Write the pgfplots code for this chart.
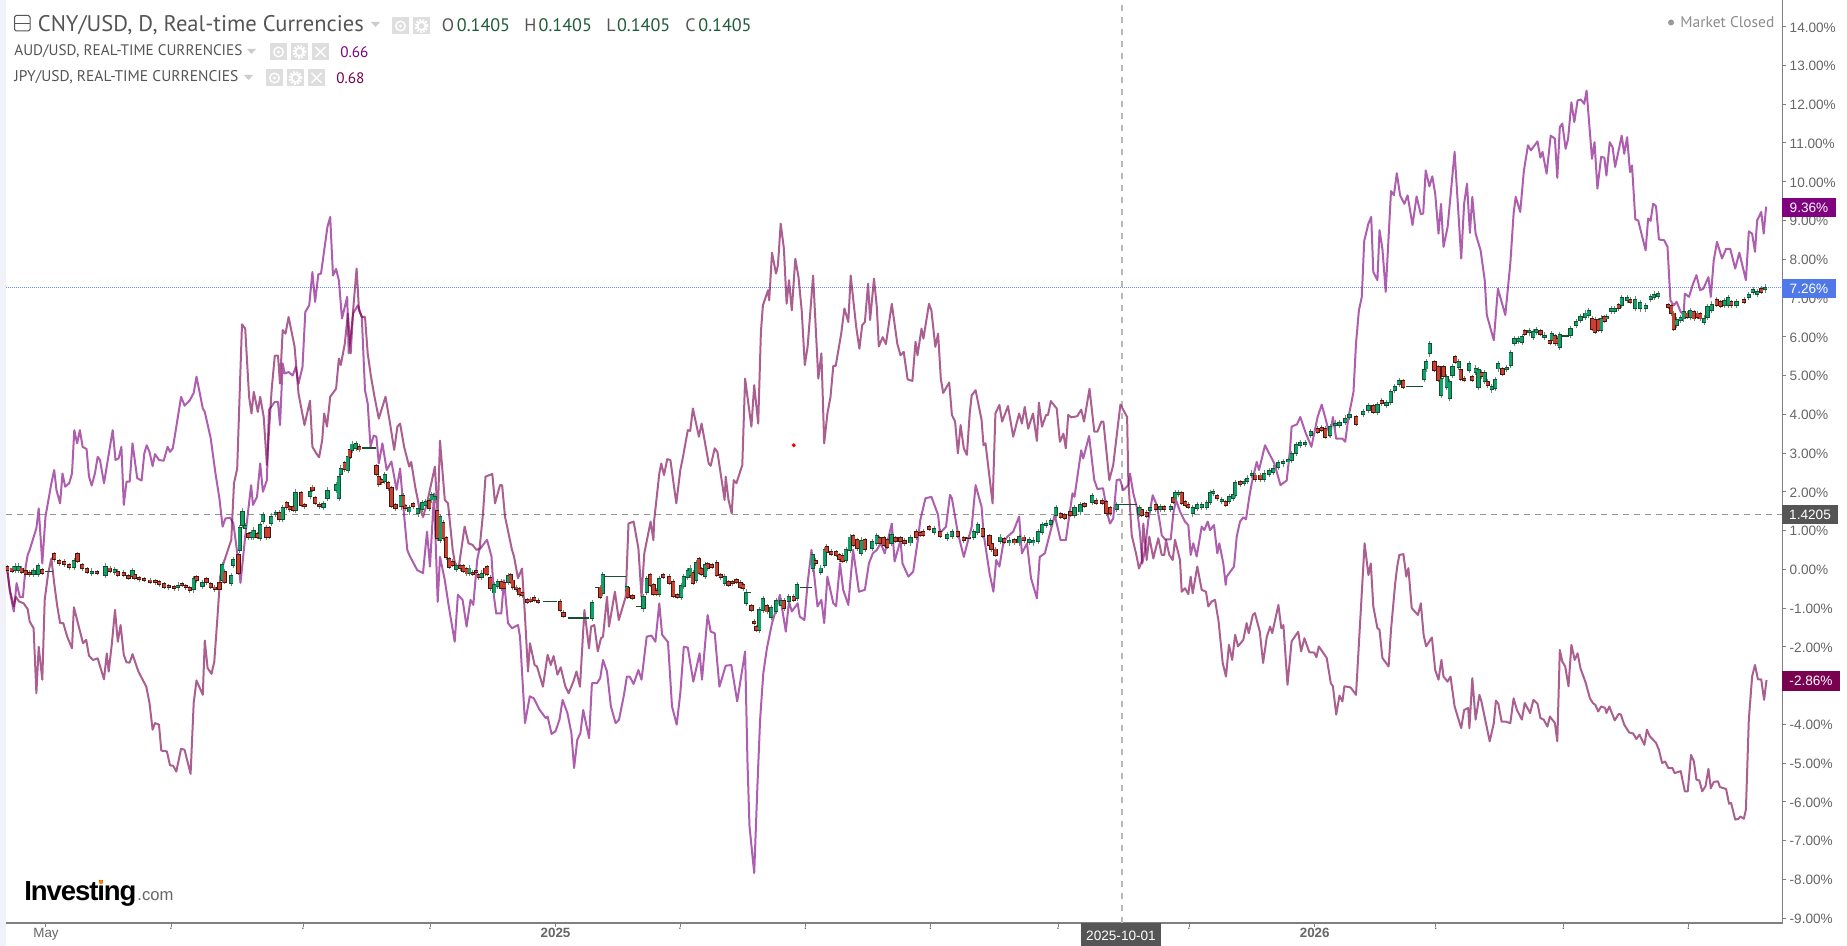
\documentclass[border=0pt]{standalone}
\usepackage{fontspec}
\usepackage{graphicx}
\setmainfont{Liberation Sans}
\newfontfamily\hdr{PT Sans}
\usepackage{pgfplots}
\usepackage{pgfplotstable}
\pgfplotsset{compat=1.18}
\definecolor{cU}{HTML}{800080}
\definecolor{cL}{HTML}{7A0050}
\definecolor{grn}{HTML}{12A06A}
\definecolor{red2}{HTML}{C8402F}
\definecolor{dkg}{HTML}{14502F}
\definecolor{dkr}{HTML}{4A1410}
\definecolor{tick}{HTML}{666666}
\definecolor{axl}{HTML}{808080}
\definecolor{hd}{HTML}{555555}
\definecolor{icon}{HTML}{DEDEDE}
\definecolor{ohlc}{HTML}{1F5C3A}
\definecolor{blbox}{HTML}{4F79E8}
\definecolor{band}{HTML}{F0F2F7}

\pgfplotstableread[row sep=\\]{x a b\\
15 -0.02 0.07\\18.6 -0.02 0.07\\33.6 -0.12 -0.04\\38.4 -0.12 0.09\\73.9 0.05 0.22\\91.7 -0.09 -0.06\\105.6 -0.15 0.07\\114.7 -0.07 -0.02\\132.5 -0.17 -0.04\\177.9 -0.47 -0.42\\193.7 -0.52 -0.26\\202.4 -0.43 -0.36\\222.2 -0.28 0.11\\231.3 -0.36 -0.17\\233.3 0.11 0.24\\
239.6 0.50 1.06\\242.4 1.14 1.49\\245.2 1.06 1.12\\251.1 0.84 0.93\\253.8 0.84 1.0\\260.2 0.80 1.14\\262.9 1.25 1.40\\271.2 1.19 1.36\\275.6 1.42 1.46\\282.7 1.29 1.57\\295.4 1.53 1.98\\310 1.89 2.0\\323.4 1.60 1.68\\327.4 1.83 2.03\\336.1 2.04 2.17\\338.9 1.85 2.39\\340.8 2.47 2.60\\347.9 2.56 2.90\\351.9 3.08 3.22\\355.9 3.12 3.23\\
384.7 2.28 2.43\\400.9 1.62 1.90\\409.2 1.49 1.57\\417.9 1.44 1.55\\422.3 1.55 1.70\\425.8 1.66 1.74\\431.8 1.80 1.91\\434.9 1.80 1.86\\
440 0.75 1.35\\456 0 0.08\\469.3 -0.09 0.02\\481.7 -0.19 -0.11\\494.3 -0.60 -0.41\\497.7 -0.43 -0.32\\508.3 -0.32 -0.17\\592 -1.26 -0.88\\602.7 -0.62 -0.15\\626.7 -0.53 -0.45\\
643.5 -1.01 -0.72\\646.7 -0.58 -0.26\\659.3 -0.64 -0.26\\681.1 -0.72 -0.43\\683.8 -0.43 -0.21\\687.8 -0.19 -0.04\\690.2 -0.15 0.02\\696.1 -0.28 0.15\\705.2 -0.17 0.11\\724.6 -0.35 -0.21\\746.3 -0.86 -0.60\\759.3 -1.57 -1.05\\762.9 -1.05 -0.77\\771.2 -1.24 -1.01\\776 -1.07 -0.83\\781.1 -0.92 -0.83\\788.6 -0.83 -0.71\\796.9 -0.75 -0.41\\
812.7 0.02 0.37\\820.6 -0.06 0.02\\824.6 0.11 0.50\\845.9 0.24 0.50\\849.9 0.50 0.82\\861 0.41 0.74\\872 0.54 0.71\\876.8 0.67 0.86\\891.4 0.67 0.88\\910.4 0.69 0.80\\934.1 0.97 1.03\\947.2 0.80 0.88\\951.9 0.86 0.97\\973.7 0.84 0.97\\977.6 0.97 1.14\\1000.1 0.74 0.82\\1009.2 0.69 0.74\\1019.1 0.69 0.84\\1029 0.71 0.75\\1033 0.69 0.74\\1038.1 0.74 0.97\\1042 0.97 1.14\\1046 1.14 1.18\\1050.8 1.18 1.24\\
1055.9 1.40 1.57\\1074.5 1.40 1.57\\1080.4 1.49 1.66\\1092.3 1.74 1.89\\1116.7 1.55 1.66\\1139.3 1.425 1.57\\1150 1.53 1.57\\1160 1.55 1.61\\1170.7 1.55 1.61\\1175 1.80 1.96\\1178.3 1.94 1.97\\1192.7 1.44 1.57\\1197.3 1.59 1.66\\1201.7 1.61 1.66\\1206.7 1.61 1.70\\1210 1.74 1.97\\1213.3 1.96 2.0\\1221.7 1.76 1.79\\1229.3 1.76 1.86\\1233.3 1.83 1.91\\1235 1.91 2.22\\1244.3 2.23 2.26\\1247.3 2.27 2.34\\1251.7 2.43 2.47\\1264.3 2.32 2.47\\1269.3 2.47 2.54\\1273.3 2.52 2.60\\1278.3 2.63 2.75\\1283.3 2.73 2.77\\1288.3 2.78 2.82\\1291.7 2.82 2.97\\1296 2.99 3.20\\1300 3.20 3.26\\1305 3.23 3.26\\
1310.6 3.46 3.55\\1330 3.46 3.68\\1335.3 3.71 3.76\\1339.5 3.73 3.78\\1345.2 3.81 3.89\\1349.4 3.93 3.98\\1363 4.0 4.06\\1368.4 4.12 4.21\\1377.4 4.06 4.24\\1386.5 4.24 4.30\\1390.6 4.32 4.58\\1394.8 4.62 4.71\\1398.9 4.79 4.86\\1424.1 4.92 5.14\\1426.1 5.18 5.35\\1429.8 5.57 5.81\\1441 4.49 4.92\\1446.8 4.71 4.95\\1449.6 4.41 4.84\\1452.5 5.01 5.22\\1458.7 5.22 5.35\\1469 5.14 5.29\\1475.6 5.10 5.18\\1478.5 4.71 5.14\\1484.7 4.86 5.07\\1491.7 4.64 4.71\\1495 4.67 4.88\\1498.3 5.18 5.29\\1506.6 5.17 5.20\\1510.7 5.27 5.57\\1514.4 5.84 5.93\\1518.6 5.89 5.93\\1521.9 5.87 6.0\\1529.3 6.11 6.15\\1533 6.0 6.13\\1536.3 6.13 6.17\\1544.5 6.0 6.03\\1551.6 5.91 6.08\\1559.8 5.74 6.04\\1570.5 6.04 6.21\\1576.3 6.30 6.38\\1580.4 6.43 6.51\\1585 6.51 6.60\\1588.7 6.56 6.67\\1601.1 6.17 6.47\\1606.4 6.47 6.51\\1611.4 6.67 6.72\\1614.7 6.67 6.72\\1621.7 6.81 6.99\\1627.1 6.94 7.01\\1635.3 6.75 6.96\\1640.3 6.73 6.87\\1645.6 6.73 6.79\\1650.6 6.98 7.03\\1653.9 7.03 7.09\\1658 7.06 7.10\\1676.6 6.30 6.44\\1680.7 6.44 6.49\\1683.6 6.47 6.64\\1690.2 6.51 6.67\\1704.2 6.38 6.47\\1707.5 6.51 6.77\\1711.7 6.70 6.83\\1724 6.81 6.92\\1728.2 6.81 6.99\\1736.4 6.81 6.90\\1748.8 7.03 7.07\\1752.9 7.16 7.20\\1757 7.10 7.16\\1765.3 7.22 7.27\\
}\tblgreen

\pgfplotstableread[row sep=\\]{x a b\\
7.1 -0.02 0.05\\11.9 -0.04 0.02\\21.7 -0.06 0.02\\25.7 -0.12 -0.04\\29.7 -0.13 -0.09\\42.3 -0.09 -0.02\\54.2 0.26 0.39\\59.3 0.15 0.21\\64.4 0.13 0.2\\69.2 0.05 0.11\\77.5 0.22 0.39\\82.2 0.02 0.11\\87 -0.06 0\\96.9 -0.10 -0.08\\109.9 -0.04 0.02\\117.8 -0.15 -0.06\\123.8 -0.15 -0.09\\128.5 -0.22 -0.17\\134.4 -0.23 -0.15\\139.2 -0.26 -0.23\\144.3 -0.28 -0.25\\150.3 -0.33 -0.29\\155.4 -0.34 -0.30\\159.3 -0.39 -0.34\\164.1 -0.45 -0.39\\168.8 -0.47 -0.43\\174 -0.49 -0.46\\181.9 -0.41 -0.38\\185.8 -0.47 -0.43\\189.8 -0.54 -0.49\\196.5 -0.29 -0.21\\206.4 -0.34 -0.26\\210.7 -0.45 -0.38\\214.7 -0.52 -0.47\\219.4 -0.52 -0.36\\224.6 -0.32 -0.06\\238.4 -0.10 0.37\\
248.3 0.82 0.90\\257 0.84 0.90\\266.1 0.82 1.07\\268.9 0.84 1.06\\279.2 1.29 1.46\\286.7 1.60 1.70\\289.8 1.55 1.60\\293 1.53 1.60\\301.3 1.66 1.96\\304.5 1.62 1.66\\312.4 2.05 2.11\\315.1 1.72 1.83\\319.5 1.62 1.67\\344.8 2.58 2.73\\349.9 2.90 3.08\\359 3.09 3.16\\
376.4 2.47 2.66\\378.8 2.19 2.39\\381.6 2.24 2.30\\388.3 2.09 2.23\\391.4 1.63 2.09\\395.4 1.57 1.66\\403.3 1.62 1.90\\405.3 1.57 1.63\\413.2 1.62 1.68\\429 1.57 1.77\\
437.3 0.80 1.51\\443.3 0.80 1.20\\446 0.31 0.80\\449.3 0.07 0.26\\452.7 0.11 0.20\\460 0.02 0.08\\463.3 -0.04 0.08\\466.7 -0.11 0\\472.7 -0.12 -0.09\\476 -0.07 -0.04\\478.7 -0.21 -0.15\\485 -0.11 0.02\\487 -0.12 0.05\\490 -0.49 -0.22\\501 -0.49 -0.32\\504.3 -0.49 -0.36\\510.7 -0.32 -0.15\\512.7 -0.47 -0.29\\516 -0.52 -0.47\\519 -0.65 -0.52\\522.3 -0.67 -0.62\\527.3 -0.84 -0.79\\530.7 -0.81 -0.78\\534 -0.79 -0.73\\538.3 -0.84 -0.81\\560 -1.05 -0.84\\563.4 -1.20 -1.12\\600 -0.71 -0.47\\
627.7 -0.72 -0.49\\632.4 -0.74 -0.69\\650.2 -0.41 -0.15\\653.4 -0.64 -0.41\\656.5 -0.64 -0.55\\663.3 -0.19 -0.15\\669.2 -0.35 -0.19\\673.1 -0.69 -0.32\\677.1 -0.72 -0.66\\692.9 -0.35 -0.09\\698.9 -0.10 0.26\\701.6 -0.12 0\\707.5 0.02 0.14\\711.9 0.07 0.11\\716.6 -0.15 0.17\\720.6 -0.21 -0.15\\728.5 -0.41 -0.34\\732.5 -0.36 -0.34\\736.4 -0.32 -0.28\\740.4 -0.45 -0.35\\743.1 -0.49 -0.41\\751.4 -1.05 -0.95\\754.2 -1.39 -1.35\\756.2 -1.57 -1.50\\766.9 -1.09 -0.95\\783.9 -1.01 -0.81\\793.7 -0.79 -0.71\\
815.5 0.15 0.22\\826.6 0.45 0.58\\831.3 0.39 0.45\\836.1 0.37 0.44\\839.2 0.26 0.37\\842.4 0.22 0.35\\853.1 0.63 0.86\\857 0.54 0.75\\864.9 0.51 0.75\\879.5 0.67 0.80\\883.9 0.63 0.80\\887 0.58 0.75\\895.4 0.74 0.80\\900.5 0.74 0.80\\904.5 0.67 0.74\\916.3 0.82 0.97\\920.3 0.88 0.94\\923 0.88 0.97\\929 1.05 1.08\\940 0.86 0.97\\957.8 0.86 0.97\\963.8 0.75 0.80\\968.5 0.80 0.82\\982.7 0.86 1.03\\989.5 0.63 0.86\\991.4 0.51 0.65\\995.4 0.38 0.51\\1004.1 0.71 0.77\\1014.4 0.69 0.75\\1023.9 0.75 0.82\\
1060.6 1.36 1.43\\1064.6 1.32 1.39\\1070.5 1.40 1.47\\1084.4 1.63 1.68\\1096.2 1.72 1.77\\1102.2 1.72 1.77\\1106.1 1.44 1.74\\1110 1.44 1.57\\1141.7 1.40 1.54\\1146.7 1.37 1.46\\1155.7 1.55 1.67\\1164.3 1.55 1.61\\1173.3 1.74 1.83\\1181.7 1.72 1.97\\1185 1.67 1.74\\1188.3 1.61 1.67\\1217.3 1.83 1.89\\1225.7 1.67 1.74\\1240 2.19 2.24\\1255 2.32 2.42\\1260 2.32 2.42\\
1317.6 3.55 3.63\\1321.7 3.59 3.65\\1325 3.42 3.63\\1356 3.76 3.93\\1373.3 4.06 4.21\\1381.6 4.28 4.35\\1403 4.71 4.86\\1434.4 5.14 5.35\\1438.5 4.88 5.22\\1443.5 4.98 5.22\\1455 5.35 5.48\\1460.8 4.92 5.15\\1464.1 4.88 4.92\\1472.3 4.88 4.95\\1481.8 4.98 5.07\\1487.6 4.75 4.84\\1502.5 5.05 5.16\\1524.7 6.08 6.14\\1540.4 6.08 6.15\\1549.9 5.84 5.89\\1554.9 5.83 6.01\\1556.9 5.83 5.95\\1592 6.21 6.47\\1594.9 6.13 6.44\\1598.2 6.17 6.43\\1604.4 6.41 6.50\\1618.8 6.73 6.81\\1630 6.90 6.96\\1668.3 6.77 6.81\\1671.2 6.60 6.79\\1673.7 6.21 6.60\\1686.9 6.51 6.60\\1693.9 6.47 6.64\\1697.2 6.51 6.60\\1700.1 6.47 6.58\\1716.6 6.83 6.96\\1720.8 6.79 6.90\\1731.1 6.81 6.90\\1743.9 6.90 6.96\\1761.2 7.16 7.24\\
}\tblred

\newcommand{\fitw}[2]{\resizebox{#1}{!}{#2}}
\newcommand{\iconeye}[2]{\fill[icon] (#1,#2) rectangle ++(17,17);\draw[white,line width=.7pt] (#1+8.5,#2+8.5) circle (2.4pt);\fill[white] (#1+8.5,#2+8.5) circle (.8pt);}
\newcommand{\icongear}[2]{\fill[icon] (#1,#2) rectangle ++(17,17);\draw[white,line width=1.1pt,dash pattern=on .9pt off .7pt] (#1+8.5,#2+8.5) circle (2.9pt);\draw[white,line width=.9pt] (#1+8.5,#2+8.5) circle (2pt);}
\newcommand{\iconx}[2]{\fill[icon] (#1,#2) rectangle ++(17,17);\draw[white,line width=.7pt] (#1+3.5,#2+3.5) -- ++(10,10) (#1+13.5,#2+3.5) -- ++(-10,10);}
\newcommand{\tri}[2]{\fill[black!20] (#1,#2) -- ++(9,0) -- ++(-4.5,5) -- cycle;}

\begin{document}
\begin{tikzpicture}
\path[use as bounding box] (0,0) rectangle (923.5pt,473pt);
\fill[white] (0,0) rectangle (923.5pt,473pt);
\fill[band] (0,0) rectangle (3pt,473pt);
\begin{axis}[
  at={(3pt,11.5pt)},anchor=south west,
  scale only axis,width=888.25pt,height=461.5pt,
  xmin=6,xmax=1782.5,ymin=-9.128,ymax=14.69,
  axis y line*=right,axis x line*=bottom,
  axis line style={axl,line width=.8pt,-},
  tick style={axl,line width=.5pt},
  major tick length=1.8pt,
  tick align=outside,
  xtick={46,171,303,430,555.5,680,805.6,930.6,1058,1189,1314.7,1435.6,1563.5,1688.5},
  xticklabels={May,.,.,.,\textbf{2025},.,.,.,.,.,\textbf{2026},.,.,.},
  xticklabel style={font=\fontsize{6.7}{8}\selectfont,text=tick,yshift=.6pt,inner sep=1pt},
  ytick={-9,-8,...,14},
  yticklabel={\pgfmathprintnumber[fixed,fixed zerofill,precision=2,assume math mode=true]{\tick}\%},
  yticklabel style={font=\fontsize{6.8}{8}\selectfont,text=tick,inner xsep=1.6pt,yshift=-.3pt},
  clip=true,
  unbounded coords=jump,
]
% guide lines
\addplot[black!42,line width=.5pt,dash pattern=on 3pt off 2.5pt] coordinates {(6,1.4205)(1782.5,1.4205)};
\addplot[black!28,line width=.6pt,dash pattern=on 3pt off 3pt] coordinates {(1122,-9.128)(1122,14.69)};
\addplot[blbox!85,line width=.5pt,dash pattern=on .5pt off .5pt] coordinates {(6,7.26)(1782.5,7.26)};
% AUD/USD
\addplot[cU,opacity=.63,line width=1pt,line join=round] coordinates {
(7.1,.02)(9.9,-.58)(13.8,-1.09)(16.6,-.36)(19.8,-.71)(22.9,-.72)(25.7,.07)(27.7,.37)(29.7,.5)(36.4,1.06)(38.7,1.57)(42.3,.15)(45.5,1.36)(51.4,2.22)(54.2,2.56)(56.5,2.04)(60.1,1.70)(62.5,2.47)(65.2,2.13)(69.2,2.22)(72,2.47)(74.3,3.59)(77.1,3.25)(79.9,3.59)(82.6,3.16)(86.6,3.10)(89,2.39)(91.7,2.16)(94.9,2.47)(97.7,2.90)(100,2.82)(104,2.22)(112.7,3.59)(115.5,2.82)(118.6,2.86)(121.4,3.16)(123.8,1.66)(126.5,2.26)(129.7,2.26)(132.5,3.25)(137.2,2.35)(141.6,2.29)(144.3,2.99)(146.7,3.20)(149.5,3.03)(152.6,2.66)(155,2.97)(159,2.82)(163.7,2.80)(167.6,3.16)(170,3.03)(172.8,3.12)(176,3.63)(181.1,4.45)(184.6,4.22)(189.8,4.36)(193.7,4.55)(196.5,4.97)(202.8,4.15)(204.8,4.06)(210.7,3.38)(215.5,2.47)(219.4,1.83)(222.6,1.10)(225.4,1.31)(230.1,1.33)(233.3,1.19)(236,.67)(238.8,.1)(240.5,-.35)(245.2,.84)(251.1,2.17)(253,1.66)(257,1.87)(260.2,2.73)(262.9,2.0)(266.9,2.30)(268.9,4.11)(274.8,4.32)(278,4.32)(280,3.72)(282.7,5.31)(284.7,5.05)(288.6,5.09)(292.6,5.0)(295.8,5.22)(298.5,4.79)(302.5,5.22)(305.3,6.64)(309.2,6.81)(312.4,7.67)(315.1,6.90)(318.3,7.61)(321,7.63)(327.4,8.83)(330.2,9.09)(333,7.58)(336.1,7.75)(338.9,7.45)(342,6.47)(347.2,7.03)(348.7,5.57)(353.1,6.6)(357.9,6.81)(361.8,6.51)(365,4.62)(367.7,4.28)(370.5,3.16)(373.7,3.45)(376.4,3.42)(378.8,2.73)(382.4,3.25)(386.7,2.56)(391.4,2.78)(396.6,2.05)(400.1,2.60)(403.3,1.62)(407.3,.5)(409.2,.37)(417.2,-.02)(423,-.1)(427,.97)(430,.07)(434,1.96)(437.7,-.84)(440,.32)(444.8,-.28)(448.8,-.96)(454.7,-1.87)(457.9,-.66)(462.6,-.79)(466.6,-1.48)(470.5,-.79)(473.3,-.92)(477.2,.24)(479.2,.5)(487,.76)(491.5,.33)(494,-.71)(496.2,-1.14)(501.3,-1.14)(504,-.28)(508,-1.39)(512,-1.52)(518,-1.44)(520,-1.74)(525,-3.97)(529.8,-3.28)(533.8,-3.33)(539.7,-3.63)(545.7,-3.84)(547.6,-3.80)(551.6,-4.25)(555.5,-4.18)(559.5,-3.88)(562.6,-3.37)(567.4,-3.71)(571.4,-4.23)(574.1,-5.13)(577.3,-4.40)(580.4,-4.23)(583.2,-3.63)(589.1,-4.36)(591.9,-2.94)(597,-2.94)(600.2,-2.81)(603,-2.34)(607,-2.64)(610.9,-3.54)(615.6,-3.97)(619,-3.88)(623.7,-3.28)(626.9,-2.77)(629.7,-2.77)(633.6,-2.96)(638.4,-2.60)(641.5,-2.85)(646.7,-1.74)(651.4,-1.71)(655.4,-1.87)(659.3,-.88)(662.1,-1.69)(668,-1.88)(672,-3.54)(676.7,-4.01)(680.3,-3.2)(683.8,-2.0)(687.8,-2.02)(693.3,-2.9)(699.6,-2.17)(702,-2.85)(707.6,-1.18)(710.7,-1.61)(714.7,-1.65)(719.4,-3.03)(725.7,-2.49)(731.3,-2.47)(737.2,-3.41)(745.1,-2.12)(747.5,-5.0)(749.5,-6.63)(754.2,-7.84)(757.4,-5.60)(760.1,-3.88)(763.3,-2.68)(766.9,-2.04)(772,-1.39)(776,-1.05)(779.9,-.66)(785.8,-1.61)(789,-.83)(791.8,-1.09)(797.7,-.88)(799.7,-1.22)(804.4,-1.31)(807.6,-.36)(811.5,.50)(817.5,-.96)(821.4,-.79)(824.2,-1.39)(827.4,-.19)(833.3,-.88)(836.1,-.95)(840,.15)(843.2,-.53)(848.3,-.92)(853.1,.50)(859,-.58)(864.9,-.53)(868.9,.15)(872.8,.41)(876.8,.5)(880.7,.67)(884.7,.41)(891.8,1.18)(894.6,.2)(900.5,.75)(902.5,.15)(908.4,-.19)(913.2,-.06)(918.3,.84)(920.3,1.27)(925.4,1.83)(931.4,1.87)(938.1,1.40)(940,.93)(946,1.1)(950,1.92)(951.9,1.83)(957.9,.93)(963.8,.32)(971.7,1.10)(975.6,2.17)(981.6,1.61)(983.5,.93)(989.5,-.10)(993.4,-.58)(996.2,.24)(999.4,.07)(1003.3,.67)(1007.3,.84)(1013.2,.97)(1019.1,1.36)(1021.9,.41)(1027,.67)(1031,-.23)(1036.9,-.75)(1039.7,.32)(1044.8,.41)(1050.8,1.01)(1054.7,1.40)(1060.6,.75)(1065.8,.75)(1072.5,1.96)(1074.5,1.87)(1081.2,3.07)(1083.2,2.86)(1089.1,3.44)(1094.3,2.30)(1097.4,2.07)(1103,2.09)(1108.1,1.36)(1110,1.18)(1113.2,1.31)(1116.7,2.30)(1120,2.32)(1123.3,2.04)(1128.3,2.17)(1130,2.47)(1133.3,1.96)(1136.7,1.61)(1140,.93)(1142.3,.15)(1145,.50)(1148.3,1.27)(1152.7,1.91)(1156.7,1.66)(1160,1.18)(1161.7,.88)(1165,.77)(1170.7,.77)(1173.3,1.44)(1176,1.79)(1180,1.49)(1185,1.23)(1188.3,1.14)(1190.7,.37)(1193.3,.67)(1196.7,.33)(1201.7,1.10)(1204.3,1.01)(1207.7,1.23)(1210,1.01)(1214,1.14)(1217.3,.41)(1219.3,.67)(1223.3,.15)(1225.7,-.40)(1226.7,-.19)(1234,.07)(1236.7,.84)(1240,1.23)(1243.3,1.34)(1246,1.29)(1249.3,1.87)(1251.7,2.22)(1256.7,2.77)(1259,2.56)(1265,3.2)(1274.3,2.73)(1280.5,2.17)(1286.7,2.29)(1290,3.08)(1291.6,3.68)(1297,3.74)(1300.3,3.93)(1305.2,3.55)(1311.4,3.16)(1317.6,3.93)(1321.7,4.25)(1325.9,3.85)(1330,3.42)(1332.9,3.93)(1336.2,3.37)(1342.4,3.37)(1345.2,3.29)(1348.5,3.93)(1353.5,4.58)(1356,5.83)(1358.9,6.68)(1361.8,7.03)(1364.2,8.47)(1368.4,8.92)(1371.2,9.09)(1373.3,7.67)(1377.4,7.46)(1379.5,8.75)(1382.4,8.27)(1385.7,7.16)(1391,9.76)(1393.9,9.65)(1396.8,10.22)(1400.1,9.65)(1404.3,9.43)(1407.6,9.65)(1412.5,8.88)(1416.6,9.62)(1420.8,9.16)(1423.2,9.18)(1425.7,10.29)(1429.4,9.88)(1432.3,10.14)(1435.2,9.69)(1438.5,8.66)(1441,9.43)(1443.5,8.32)(1447.6,8.83)(1454.6,10.77)(1461.2,8.02)(1464.1,9.43)(1467,9.95)(1469.9,8.68)(1472.3,9.61)(1475.6,8.66)(1480.6,8.23)(1484.7,7.46)(1486.8,6.56)(1493.8,5.91)(1497.9,7.24)(1505.3,6.56)(1510.3,7.89)(1513.6,9.18)(1515.7,9.61)(1520.2,9.22)(1523.9,10.29)(1528,10.94)(1530.9,10.81)(1537.5,11.04)(1540.4,10.62)(1542.5,10.77)(1546.6,10.21)(1550.7,11.19)(1554.9,11.11)(1557.3,10.10)(1559.8,11.41)(1562.3,11.50)(1565.6,10.85)(1568.1,11.11)(1571.4,12.05)(1574.3,11.54)(1577.6,12.10)(1580.9,12.12)(1584.2,12.01)(1586.6,12.35)(1592,10.59)(1594.5,11.02)(1597.4,9.82)(1601.1,10.64)(1604.4,10.62)(1606.4,10.16)(1609.7,11.02)(1612.6,10.89)(1615.1,10.38)(1621.7,11.19)(1624.2,10.72)(1627.1,11.15)(1630,10.25)(1632,10.42)(1635.3,9.03)(1638.2,9.0)(1645.6,8.23)(1648.1,9.05)(1650.6,8.99)(1653.1,9.43)(1656,9.37)(1658.9,8.51)(1664.2,8.49)(1667.5,8.32)(1670.4,6.94)(1673.7,6.81)(1676.6,6.90)(1680.7,6.64)(1683.6,6.56)(1684.8,7.11)(1689,7.03)(1693.1,7.37)(1696.4,7.59)(1700.1,7.20)(1703.4,7.24)(1708.4,7.54)(1710.8,7.03)(1713.7,7.97)(1717,8.45)(1722,8.02)(1726.1,8.27)(1730.2,8.27)(1735.2,7.76)(1739.3,8.17)(1745.9,7.46)(1748.8,8.72)(1752.1,8.66)(1755,8.19)(1757.1,9.0)(1761.2,9.22)(1763.7,8.66)(1766.1,9.36)
};
% JPY/USD
\addplot[cL,opacity=.63,line width=1pt,line join=round] coordinates {
(7.1,.02)(9.9,-.53)(13.8,-.96)(15.8,-.71)(19,-.83)(23.7,-.88)(27.7,-1.03)(29.7,-1.35)(33.6,-1.52)(36.4,-3.20)(38.7,-2.0)(42.3,-2.85)(44.7,-.79)(48.2,-.10)(51.4,.28)(54.2,-.36)(57.3,-.96)(60.1,-1.39)(63.3,-1.39)(67.2,-1.74)(72,-2.04)(73.9,-.98)(79,-1.50)(83,-1.91)(86.2,-1.82)(89,-2.23)(92.9,-2.34)(97.7,-2.30)(104,-2.84)(106.8,-2.17)(108.7,-2.64)(111.9,-1.91)(115,-1.05)(117.8,-1.87)(120.6,-1.44)(123.8,-2.21)(126.5,-2.40)(129.7,-2.41)(132.5,-2.19)(138.4,-2.64)(146.3,-3.03)(149.5,-3.45)(152.6,-4.14)(155,-3.97)(159,-4.01)(161.3,-4.68)(166.9,-4.70)(170,-5.06)(173.2,-5.07)(176.3,-5.22)(181.1,-4.63)(184.6,-4.66)(190.6,-5.28)(193.7,-3.45)(196.5,-2.87)(202.8,-3.24)(204.8,-1.84)(207.6,-2.55)(211.5,-2.70)(214.3,-2.38)(217.5,-1.22)(220.2,-.19)(223.4,.15)(231.3,.76)(234,2.22)(237.2,2.60)(240,4.79)(242,6.32)(245.2,6.21)(249.1,4.45)(251.5,4.02)(253.8,4.58)(257.8,4.06)(260.2,4.45)(263.7,3.93)(266.9,2.69)(271.6,4.62)(274.8,5.51)(278,5.51)(280,4.79)(282.7,6.17)(285.5,6.08)(288.6,6.51)(294.6,5.74)(298.5,4.54)(304.5,3.72)(310,4.35)(312.4,3.16)(316.3,2.99)(319.1,2.89)(322.2,3.33)(324.2,4.02)(327,3.68)(330.2,4.45)(336.1,4.66)(338.9,5.44)(340.8,5.27)(344.8,5.82)(347.9,6.60)(350.7,5.57)(353.1,6.68)(356.6,7.76)(359,6.68)(361.8,6.51)(365,6.51)(367.7,5.57)(371,4.97)(374.5,4.45)(378.8,3.89)(385.5,4.45)(389.5,3.85)(394.2,3.08)(397.4,3.68)(400.1,3.76)(404.1,3.16)(409.2,2.65)(411.2,2.77)(415.2,2.13)(419.1,1.62)(423,1.35)(427,1.7)(434.9,2.65)(437.7,1.36)(440,3.32)(444.8,1.79)(448,1.70)(452.7,.5)(456,0)(459,.1)(464.6,1.10)(468.5,.67)(472.5,.63)(476.5,.5)(479.6,.54)(483,1.44)(485.5,2.39)(492.3,2.46)(495,1.7)(500,2.17)(502.1,2.17)(505,1.36)(512,.5)(514,.33)(518,-.23)(522,.02)(525,-1.22)(528,-2.64)(530,-1.91)(534.6,-2.47)(537,-2.51)(542.9,-3.03)(547.6,-2.21)(550.8,-2.47)(553.6,-2.24)(557.5,-2.72)(560.7,-2.53)(565.4,-3.03)(568.6,-3.2)(573.3,-2.9)(576.5,-2.64)(580,-3.03)(584.4,-1.05)(589,-2.04)(591.1,-1.48)(594.3,-1.44)(597.8,-2.12)(601,-1.78)(603,-1.74)(607,-.71)(609,-1.48)(614.9,-.58)(618.8,-1.31)(625.7,-.71)(628.5,1.18)(633.6,1.23)(638.4,.54)(641.5,-.71)(644.3,.41)(650.6,1.23)(653.4,.75)(654.2,1.27)(659.3,2.47)(661.3,2.73)(664,2.43)(667.2,2.84)(670.4,2.82)(676.3,1.70)(680.3,2.56)(683,2.90)(687.8,3.59)(690.2,3.57)(692.9,4.15)(698.9,3.42)(701.6,3.76)(708.7,2.73)(710.7,2.67)(714.7,3.12)(717.4,3.03)(724.6,1.79)(725.7,2.39)(728.5,1.79)(731.7,1.44)(733.7,2.30)(736.4,2.22)(742.3,2.69)(745.1,4.92)(751.4,3.68)(754.2,4.75)(758.2,3.76)(760.9,6.12)(762.9,6.81)(768,7.20)(769.2,6.94)(772,8.17)(776,7.63)(777.9,7.84)(780.7,8.92)(783.9,8.27)(786.6,6.85)(789,7.46)(791.8,6.68)(795.3,8.01)(798.5,7.54)(801.7,6.68)(804.8,5.27)(807.6,5.74)(813.1,7.58)(818.3,4.92)(821.4,5.57)(824.2,3.25)(827.4,4.02)(830.5,4.45)(833.3,5.25)(835.7,5.25)(841.2,6.08)(844.4,6.73)(848.3,6.38)(850.7,7.58)(856.2,6.25)(859.4,5.69)(862.2,6.30)(864.9,6.38)(868.1,7.37)(870.1,6.43)(874,7.50)(876.8,6.77)(878.8,5.75)(882.7,5.99)(885.9,5.81)(891.8,6.85)(897.3,5.82)(900.5,5.52)(903.7,5.61)(907.6,4.90)(912.4,4.86)(915.5,5.87)(917.5,5.52)(921.5,6.21)(923.4,5.95)(929,6.85)(931.4,6.68)(935.3,5.74)(938.1,6.08)(940.8,4.92)(943.2,4.55)(949.2,4.82)(951.9,3.98)(955.1,3.81)(957.9,2.99)(960.6,3.72)(963.8,3.12)(966.9,2.95)(969.7,4.02)(971.7,4.49)(975.6,4.62)(981.6,3.85)(983.5,3.20)(985.5,3.25)(992.6,1.70)(995.4,4.02)(999.4,4.24)(1002.1,3.81)(1008,4.21)(1013.2,3.42)(1019.1,4.02)(1021.9,3.76)(1024.7,4.19)(1028.2,3.63)(1033,4.02)(1036.9,3.31)(1038.9,4.30)(1042,3.68)(1046,3.98)(1048,3.98)(1050.8,4.34)(1056.7,4.15)(1059.9,3.29)(1063.4,3.50)(1065.8,3.12)(1068.2,3.98)(1071.3,3.92)(1077.3,3.95)(1081.2,4.12)(1084,3.81)(1089.5,4.66)(1094.3,3.55)(1097.4,3.55)(1101.4,3.81)(1103.4,3.81)(1109.3,2.30)(1113.2,2.69)(1120.4,4.25)(1127.1,3.93)(1128.3,2.30)(1131.7,.88)(1136,.41)(1139,.02)(1141.7,.2)(1143.3,1.18)(1146.7,.24)(1149.3,.84)(1153.3,.28)(1158.3,.8)(1161.7,.37)(1164.3,.37)(1166,.76)(1169.3,.37)(1172.7,.24)(1175,.76)(1180,.24)(1181.7,-.58)(1185,-.49)(1188.3,-.64)(1190.7,-.19)(1192.7,-.62)(1197.3,.07)(1201.7,-.53)(1206,-.58)(1208.3,-.96)(1211.7,-.83)(1215,-.79)(1218.6,-1.35)(1222.7,-2.42)(1226,-2.77)(1228.9,-1.95)(1232.2,-2.34)(1235.1,-1.69)(1238,-1.99)(1243.3,-1.82)(1246.6,-1.39)(1248.7,-1.65)(1252.8,-1.18)(1254.9,-1.13)(1259.8,-1.61)(1263.1,-2.42)(1266.8,-1.74)(1270.1,-1.48)(1272.2,-1.65)(1278.4,-.92)(1281.3,-1.52)(1283.4,-1.44)(1287.5,-2.98)(1291.6,-1.86)(1298.2,-1.61)(1301.1,-2.12)(1304.4,-1.78)(1309.3,-2.14)(1314.3,-2.15)(1316.4,-2.27)(1318.8,-1.99)(1326.7,-2.29)(1330.8,-2.94)(1332.9,-3.02)(1336.2,-3.75)(1339.5,-3.26)(1342.4,-3.41)(1344.4,-3.02)(1350.6,-3.05)(1356,-3.24)(1364.6,.67)(1368.4,-.15)(1370.8,.15)(1373.3,-.96)(1377.4,-1.52)(1379.5,-1.56)(1382.4,-2.29)(1388.6,-2.51)(1391,-1.56)(1395.2,-.36)(1397.2,.07)(1399.3,.37)(1403.4,.39)(1406.3,-.19)(1408.4,.03)(1411.7,-1.0)(1417.9,-1.18)(1420.8,-.88)(1423.6,-1.69)(1426.1,-1.99)(1431.9,-1.76)(1435.2,-2.60)(1438.5,-2.85)(1441.4,-2.34)(1443.5,-2.77)(1447.6,-2.90)(1450.5,-2.77)(1454.6,-3.54)(1461.2,-4.10)(1464.1,-3.63)(1468.2,-3.58)(1469.4,-4.10)(1472.3,-2.81)(1475.6,-3.88)(1479.4,-3.24)(1481.4,-3.41)(1489.7,-4.44)(1493.8,-3.97)(1495.9,-3.39)(1498.3,-3.47)(1501.6,-3.93)(1505.3,-3.93)(1510.3,-3.97)(1513.6,-3.33)(1516.9,-3.63)(1521.9,-3.88)(1524.7,-3.45)(1530.1,-3.71)(1533.4,-3.37)(1537.5,-3.47)(1540.4,-3.84)(1543.7,-3.88)(1547.4,-4.06)(1549.9,-3.80)(1554.9,-3.97)(1557.3,-4.44)(1559.8,-2.08)(1562.3,-2.38)(1565.2,-2.51)(1568.5,-3.02)(1571.4,-1.95)(1574.7,-2.34)(1577.6,-2.17)(1580.4,-2.55)(1585.8,-2.94)(1589.9,-3.33)(1592.8,-3.45)(1595.3,-3.50)(1598.2,-3.67)(1601.1,-3.54)(1605.2,-3.58)(1606.4,-3.71)(1609.3,-3.54)(1614.7,-3.90)(1618.8,-3.73)(1620.9,-3.75)(1624.2,-4.01)(1629.1,-4.21)(1633.3,-4.24)(1636.2,-4.38)(1639.5,-4.27)(1644.4,-4.53)(1646.9,-4.14)(1649.8,-4.31)(1656,-4.48)(1658.9,-4.66)(1662.1,-5.0)(1665,-4.96)(1668.3,-5.13)(1672.5,-5.13)(1674.5,-5.26)(1680.7,-5.21)(1684.8,-5.73)(1687.7,-5.73)(1691,-4.79)(1693.9,-4.96)(1696.4,-5.43)(1699.3,-5.45)(1702.2,-5.73)(1705.5,-5.60)(1708.4,-5.15)(1710.8,-5.65)(1713.7,-5.49)(1717.9,-5.47)(1719.9,-5.62)(1726.1,-5.67)(1729,-6.05)(1731.1,-6.03)(1735.2,-6.46)(1738.5,-6.44)(1740.5,-6.38)(1743.8,-6.44)(1745.9,-6.20)(1748.8,-3.88)(1752.1,-2.77)(1755,-2.47)(1757.9,-2.84)(1761.2,-2.84)(1764.1,-3.37)(1766.5,-2.86)
};
% flat candles
\addplot[dkg,line width=.6pt] coordinates {(45.5,-.06)(52.6,-.06)(nan,nan)(361.8,3.13)(375.6,3.13)(nan,nan)(543.3,-.84)(556.7,-.84)(nan,nan)(568,-1.26)(589,-1.26)(nan,nan)(595,-.47)(600,-.47)(nan,nan)(604,-.19)(625.7,-.19)(nan,nan)(635.6,-.96)(641.5,-.96)(nan,nan)(746.3,-.60)(751,-.60)(nan,nan)(799.7,-.47)(811.5,-.47)(nan,nan)(1117.3,1.68)(1136.7,1.68)(nan,nan)(1406.3,4.71)(1422.8,4.71)(nan,nan)(1561,6.02)(1569.3,6.02)};
% wicks
\addplot[draw=none,mark=none,error bars/.cd,y dir=plus,y explicit,error mark=none,error bar style={line width=.35pt,dkg!65!white}] table[x=x,y expr=\thisrow{a}-0.08,y error plus expr=\thisrow{b}-\thisrow{a}+0.16]{\tblgreen};
\addplot[draw=none,mark=none,error bars/.cd,y dir=plus,y explicit,error mark=none,error bar style={line width=.35pt,dkg!65!white}] table[x=x,y expr=\thisrow{a}-0.06,y error plus expr=\thisrow{b}-\thisrow{a}+0.12]{\tblred};
% candle outlines
\addplot[draw=none,mark=none,error bars/.cd,y dir=plus,y explicit,error mark=none,error bar style={line width=2.1pt,dkg}] table[x=x,y expr=\thisrow{a}-0.025,y error plus expr=\thisrow{b}-\thisrow{a}+0.05]{\tblgreen};
\addplot[draw=none,mark=none,error bars/.cd,y dir=plus,y explicit,error mark=none,error bar style={line width=2.1pt,dkr}] table[x=x,y expr=\thisrow{a}-0.025,y error plus expr=\thisrow{b}-\thisrow{a}+0.05]{\tblred};
% candle bodies
\addplot[draw=none,mark=none,error bars/.cd,y dir=plus,y explicit,error mark=none,error bar style={line width=1.5pt,grn}] table[x=x,y=a,y error plus expr=\thisrow{b}-\thisrow{a}]{\tblgreen};
\addplot[draw=none,mark=none,error bars/.cd,y dir=plus,y explicit,error mark=none,error bar style={line width=1.5pt,red2}] table[x=x,y=a,y error plus expr=\thisrow{b}-\thisrow{a}]{\tblred};
% stray dot
\addplot[only marks,mark=*,mark size=.8pt,red,mark options={draw=none}] coordinates {(793.7,3.2)};
\end{axis}
\begin{scope}[shift={(0,473pt)},x=.5pt,y=-.5pt]
% cover clipped bottom of -9.00%
\fill[white] (1784,925) rectangle (1847,946);
% right labels
\fill[cU] (1782,198) rectangle (1835.5,217.5);
\node[white,font=\fontsize{6.8}{8}\selectfont] at (1809,208) {9.36\%};
\fill[blbox] (1782,279) rectangle (1835.5,298.5);
\node[white,font=\fontsize{6.8}{8}\selectfont] at (1809,289) {7.26\%};
\fill[hd] (1782,505) rectangle (1838,524.5);
\node[white,font=\fontsize{6.8}{8}\selectfont] at (1810,515) {1.4205};
\fill[cL] (1782,671.5) rectangle (1839.5,691);
\node[white,font=\fontsize{6.8}{8}\selectfont] at (1811,681) {-2.86\%};
% date label
\fill[hd] (1081,923) rectangle (1161,946);
\node[white,font=\fontsize{6.8}{8}\selectfont] at (1121,936) {2025-10-01};
% title
\draw[hd,line width=.5pt,rounded corners=.8pt] (14.5,15.5) rectangle (30,31);
\draw[hd,line width=.5pt] (15,23.2) -- (29.5,23.2);
\node[anchor=west,inner sep=0,text=hd] at (37.5,25) {\fitw{163pt}{\hdr\fontsize{10}{12}\selectfont CNY/USD, D, Real-time Currencies}};
\tri{371}{22}
\iconeye{392}{17.5}\icongear{413}{17.5}
\foreach \xx/\ll/\vv in {441.5/O/456.5,524/H/538.3,606/L/616.7,685/C/698}{
  \node[anchor=west,inner sep=0,text=hd,font=\hdr\fontsize{9}{10}\selectfont] at (\xx,25) {\ll};
  \node[anchor=west,inner sep=0,text=ohlc] at (\vv,25) {\fitw{26.6pt}{\hdr\fontsize{9}{10}\selectfont 0.1405}};
}
\node[anchor=west,inner sep=0,text=hd] at (14,51) {\fitw{114pt}{\hdr\fontsize{8}{10}\selectfont AUD/USD, REAL-TIME CURRENCIES}};
\tri{247}{49}
\iconeye{270}{43.5}\icongear{291}{43.5}\iconx{312}{43.5}
\node[anchor=west,inner sep=0,text=cU,font=\hdr\fontsize{7.6}{9}\selectfont] at (340,52) {0.66};
\node[anchor=west,inner sep=0,text=hd] at (14,77) {\fitw{112pt}{\hdr\fontsize{8}{10}\selectfont JPY/USD, REAL-TIME CURRENCIES}};
\tri{244}{75}
\iconeye{266}{69.5}\icongear{287}{69.5}\iconx{308}{69.5}
\node[anchor=west,inner sep=0,text=cL,font=\hdr\fontsize{7.6}{9}\selectfont] at (336,78) {0.68};
% market closed
\fill[black!40] (1671,22.5) circle (1.5pt);
\node[anchor=west,inner sep=0,text=black!45] at (1680,22.5) {\fitw{47pt}{\hdr\fontsize{8}{10}\selectfont Market Closed}};
% logo
\node[anchor=west,inner sep=0] at (24,893) {\fitw{56pt}{\bfseries\addfontfeatures{LetterSpace=-4}Investing}};
\node[anchor=west,inner sep=0,text=black!60] at (137,896) {\fitw{18pt}{.com}};
\fill[orange] (101,882) circle (1.1pt);
\end{scope}
\end{tikzpicture}
\end{document}
